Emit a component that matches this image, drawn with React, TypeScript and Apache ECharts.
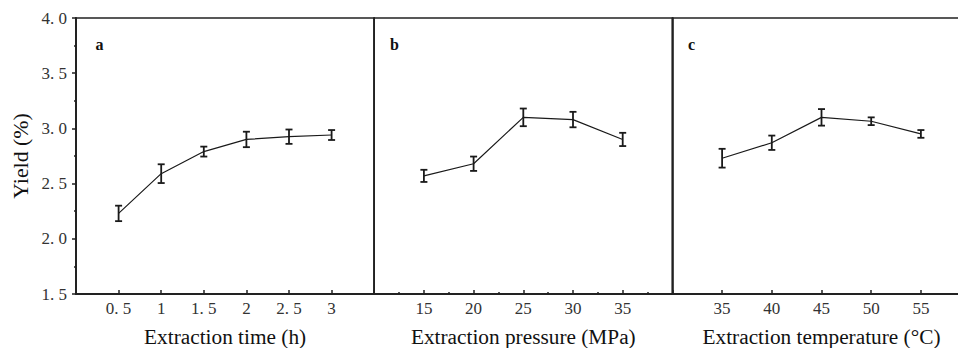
import React, { useEffect, useRef } from "react";
import * as echarts from "echarts";

// Panel a: extraction time
const timeX = [0.5, 1, 1.5, 2, 2.5, 3];
const timeY = [2.23, 2.59, 2.79, 2.9, 2.925, 2.94];
const timeErr = [0.07, 0.085, 0.045, 0.07, 0.065, 0.045];
const timeLabels = ["0. 5", "1", "1. 5", "2", "2. 5", "3"];

// Panel b: extraction pressure
const pressureX = [15, 20, 25, 30, 35];
const pressureY = [2.57, 2.68, 3.1, 3.08, 2.9];
const pressureErr = [0.055, 0.065, 0.08, 0.07, 0.06];

// Panel c: extraction temperature
const tempX = [35, 40, 45, 50, 55];
const tempY = [2.73, 2.87, 3.1, 3.065, 2.95];
const tempErr = [0.085, 0.065, 0.075, 0.035, 0.035];

const yTickLabels = ["1. 5", "2. 0", "2. 5", "3. 0", "3. 5", "4. 0"];

const SERIF = "Times New Roman, Liberation Serif, serif";
const INK = "#1a1a1a";

export default function App() {
  const ref = useRef<HTMLDivElement>(null);

  useEffect(() => {
    if (!ref.current) return;
    const chart = echarts.init(ref.current, undefined, { renderer: "svg" });

    const panels = [
      { xs: timeX, ys: timeY, errs: timeErr, min: 0, max: 3.5, interval: 0.5, name: "Extraction time (h)", minor: false },
      { xs: pressureX, ys: pressureY, errs: pressureErr, min: 10, max: 40, interval: 5, name: "Extraction pressure (MPa)", minor: true },
      { xs: tempX, ys: tempY, errs: tempErr, min: 30, max: 60, interval: 5, name: "Extraction temperature (°C)", minor: false },
    ];
    const lefts = [76, 374.2, 672.4];

    const grids = lefts.map((l) => ({
      left: l,
      top: 18,
      width: 298.2,
      height: 276,
      containLabel: false,
      outerBoundsMode: "none",
      show: true,
      borderColor: "#222",
      borderWidth: 1.5,
      backgroundColor: "transparent",
    }));

    const labelStyle = { fontFamily: SERIF, fontSize: 17, color: "#333" };

    const xAxes = panels.map((p, i) => ({
      type: "value",
      gridIndex: i,
      min: p.min,
      max: p.max,
      interval: p.interval,
      axisLine: { show: true, onZero: false, lineStyle: { color: "#222", width: 2 } },
      axisTick: { show: true, inside: true, length: 4, lineStyle: { color: "#222", width: 1.5 } },
      minorTick: { show: p.minor, splitNumber: 2, length: 2, lineStyle: { color: "#222", width: 1.5 } },
      splitLine: { show: false },
      axisLabel: {
        ...labelStyle,
        margin: 6,
        showMinLabel: false,
        showMaxLabel: false,
        formatter: (v: number) => {
          if (i === 0) {
            const idx = timeX.indexOf(v);
            return idx >= 0 ? timeLabels[idx] : "";
          }
          return p.xs.indexOf(v) >= 0 ? String(v) : "";
        },
      },
      name: p.name,
      nameLocation: "middle",
      nameGap: 32,
      nameTextStyle: { fontFamily: SERIF, fontSize: 21.3, color: "#111" },
    }));

    const yAxes = panels.map((p, i) => ({
      type: "value",
      gridIndex: i,
      min: 1.5,
      max: 4.0,
      interval: 0.5,
      axisLine: { show: true, onZero: false, lineStyle: { color: "#222", width: i === 0 ? 2 : 1.5 } },
      axisTick: { show: i === 0, inside: false, length: 4, lineStyle: { color: "#222", width: 1.5 } },
      minorTick: { show: i === 0, splitNumber: 2, length: 2, lineStyle: { color: "#222", width: 1.5 } },
      splitLine: { show: false },
      axisLabel: {
        show: i === 0,
        ...labelStyle,
        margin: 9,
        formatter: (v: number) => {
          const idx = Math.round((v - 1.5) / 0.5);
          return yTickLabels[idx] ?? "";
        },
      },
      name: i === 0 ? "Yield (%)" : "",
      nameLocation: "middle",
      nameGap: 44,
      nameTextStyle: { fontFamily: SERIF, fontSize: 21.8, color: "#111" },
    }));

    const series: any[] = [];
    panels.forEach((p, i) => {
      series.push({
        type: "line",
        xAxisIndex: i,
        yAxisIndex: i,
        data: p.xs.map((x, k) => [x, p.ys[k]]),
        symbol: "none",
        lineStyle: { color: INK, width: 1.2 },
        z: 3,
      });
      series.push({
        type: "custom",
        xAxisIndex: i,
        yAxisIndex: i,
        encode: { x: 0, y: [1, 2] },
        data: p.xs.map((x, k) => [x, p.ys[k] - p.errs[k], p.ys[k] + p.errs[k]]),
        renderItem: (params: any, api: any) => {
          const x = api.value(0);
          const lo = api.coord([x, api.value(1)]);
          const hi = api.coord([x, api.value(2)]);
          const w = 3.5;
          const style = { stroke: INK, lineWidth: 1.8 };
          return {
            type: "group",
            children: [
              { type: "line", shape: { x1: hi[0], y1: hi[1], x2: lo[0], y2: lo[1] }, style },
              { type: "line", shape: { x1: hi[0] - w, y1: hi[1], x2: hi[0] + w, y2: hi[1] }, style },
              { type: "line", shape: { x1: lo[0] - w, y1: lo[1], x2: lo[0] + w, y2: lo[1] }, style },
            ],
          };
        },
        z: 4,
      });
    });

    const panelLetters = [
      { t: "a", x: 95.5 },
      { t: "b", x: 390 },
      { t: "c", x: 688 },
    ];

    chart.setOption({
      animation: false,
      backgroundColor: "#ffffff",
      textStyle: { fontFamily: SERIF },
      grid: grids,
      xAxis: xAxes,
      yAxis: yAxes,
      series,
      graphic: panelLetters.map((l) => ({
        type: "text",
        left: l.x,
        top: 36,
        style: { text: l.t, fontFamily: SERIF, fontWeight: "bold", fontSize: 16, fill: "#111" },
      })),
    });

    return () => chart.dispose();
  }, []);

  return (
    <div
      ref={ref}
      style={{ position: "fixed", left: 0, top: 0, width: 958, height: 348, background: "#fff" }}
    />
  );
}
